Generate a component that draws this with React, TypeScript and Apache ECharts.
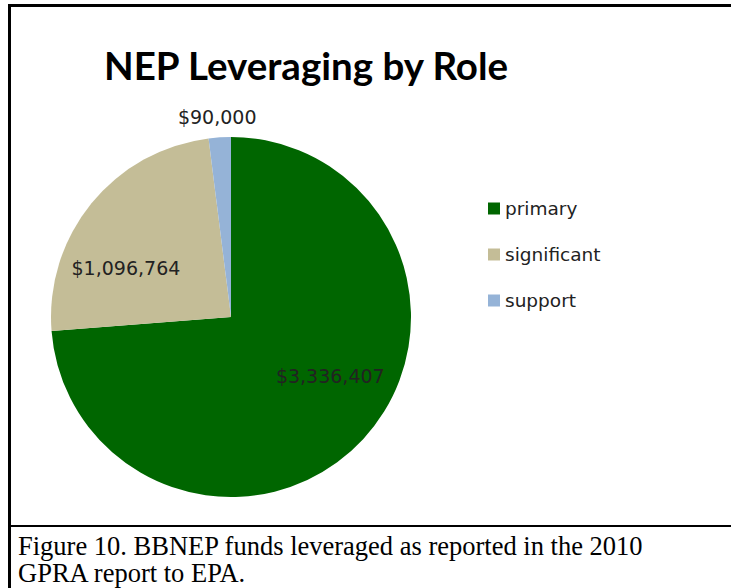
import React, { useEffect, useRef } from "react";
import * as echarts from "echarts";

const categories = ["primary", "significant", "support"];
const values = [3336407, 1096764, 90000];
const colors = ["#006600", "#C4BD97", "#95B3D7"];
const titleText = "NEP Leveraging by Role";
const captionLines = [
  "Figure 10. BBNEP funds leveraged as reported in the 2010",
  "GPRA report to EPA.",
];

const labelOffsets = [
  [31, -4],
  [-33, 10],
  [-8, -107],
];

function fmt(v: number) {
  return "$" + v.toLocaleString("en-US");
}

export default function App() {
  const ref = useRef<HTMLDivElement>(null);
  useEffect(() => {
    if (!ref.current) return;
    const chart = echarts.init(ref.current, undefined, { renderer: "svg" });
    const labelFont = "'DejaVu Sans', Verdana, sans-serif";
    chart.setOption({
      animation: false,
      backgroundColor: "#ffffff",
      title: {
        text: titleText,
        left: 99,
        top: 40,
        textStyle: {
          fontFamily: "Lato, 'Open Sans', sans-serif",
          fontWeight: "bold",
          fontSize: 38.5,
          color: "#000000",
        },
      },
      legend: {
        orient: "vertical",
        left: 483,
        top: 194,
        itemWidth: 12,
        itemHeight: 12,
        itemGap: 27,
        icon: "rect",
        data: categories,
        textStyle: {
          fontFamily: labelFont,
          fontSize: 18.5,
          lineHeight: 18,
          color: "#222222",
        },
      },
      series: [
        {
          type: "pie",
          center: [231, 317],
          radius: [0, 180],
          startAngle: 90,
          clockwise: true,
          avoidLabelOverlap: false,
          itemStyle: { borderWidth: 0 },
          emphasis: { disabled: true },
          labelLine: { show: false },
          data: categories.map((c, i) => ({
            name: c,
            value: values[i],
            itemStyle: { color: colors[i] },
            label: {
              show: true,
              position: "inside",
              offset: labelOffsets[i],
              formatter: () => fmt(values[i]),
              fontFamily: labelFont,
              fontSize: 19,
              color: "#222222",
            },
          })),
        },
      ],
      graphic: [
        {
          type: "line",
          shape: { x1: 9.5, y1: 4, x2: 9.5, y2: 588 },
          style: { stroke: "#000", lineWidth: 3 },
        },
        {
          type: "line",
          shape: { x1: 8, y1: 5.5, x2: 731, y2: 5.5 },
          style: { stroke: "#000", lineWidth: 3 },
        },
        {
          type: "line",
          shape: { x1: 8, y1: 526, x2: 731, y2: 526 },
          style: { stroke: "#000", lineWidth: 2 },
        },
        {
          type: "text",
          x: 18,
          y: 532,
          style: {
            text: captionLines.join("\n"),
            font: "26.5px 'Liberation Serif', 'Times New Roman', serif",
            lineHeight: 27,
            fill: "#000",
            verticalAlign: "top",
          },
        },
      ],
    });
    return () => chart.dispose();
  }, []);
  return (
    <div
      ref={ref}
      style={{ position: "fixed", left: 0, top: 0, width: 731, height: 588 }}
    />
  );
}
